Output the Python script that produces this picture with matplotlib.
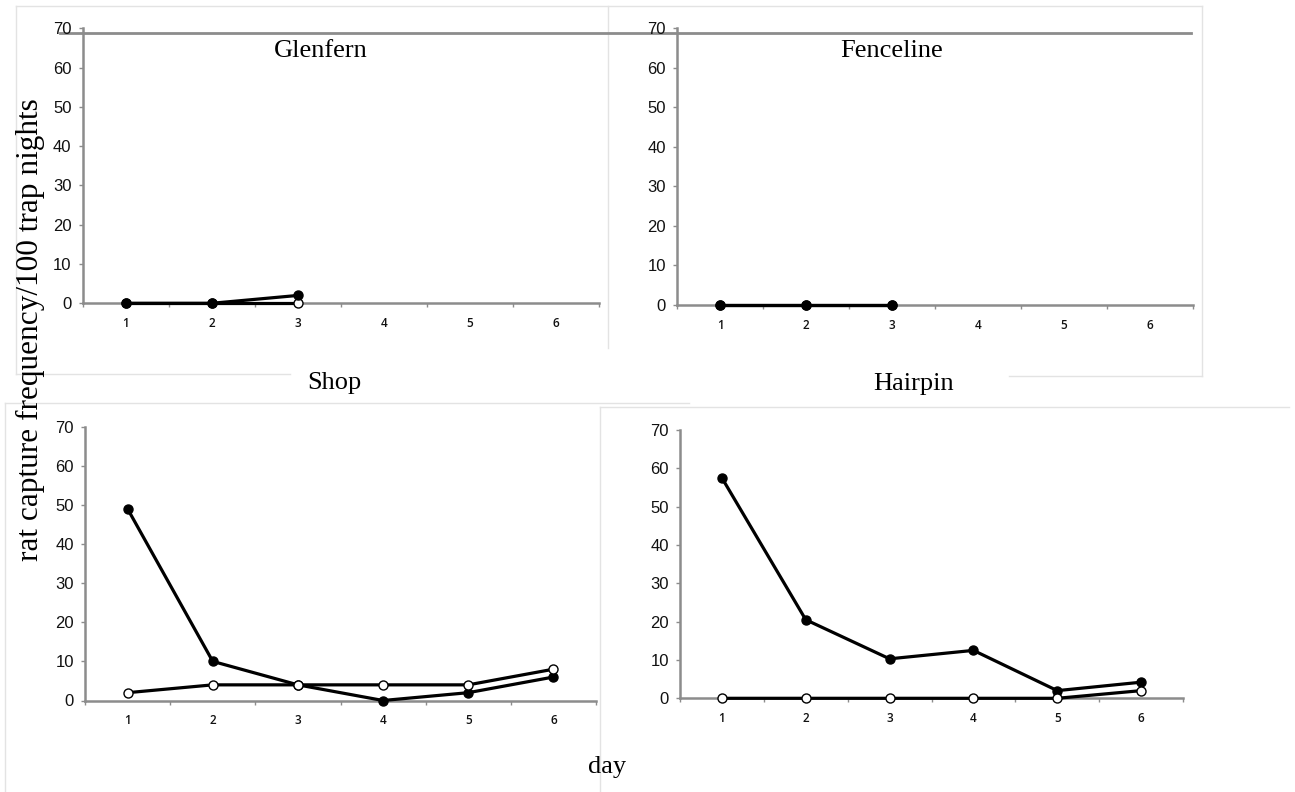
import matplotlib
matplotlib.use("Agg")
import matplotlib.pyplot as plt
from matplotlib.lines import Line2D

# rat captures per 100 trap nights, by trapping day
days = [1, 2, 3, 4, 5, 6]

glenfern_closed = [0, 0, 2]
glenfern_open = [0, 0, 0]
fenceline_closed = [0, 0, 0]
fenceline_open = [0, 0, 0]
shop_closed = [49, 10, 4, 0, 2, 6]
shop_open = [2, 4, 4, 4, 4, 8]
hairpin_closed = [57.5, 20.5, 10.3, 12.5, 2, 4.2]
hairpin_open = [0, 0, 0, 0, 0, 2]

y_ticks = [0, 10, 20, 30, 40, 50, 60, 70]

W, H = 1295, 792
AXIS_GREY = "#8c8c8c"
FRAME_GREY = "#e3e3e3"
SERIF = "Liberation Serif"

fig = plt.figure(figsize=(W / 100, H / 100), dpi=100)
fig.patch.set_facecolor("white")


def px_axes(left, right, bottom, top):
    return fig.add_axes([left / W, 1 - bottom / H, (right - left) / W, (bottom - top) / H])


def fig_line(xs, ys, color=FRAME_GREY, lw=1.0):
    fig.add_artist(Line2D([x / W for x in xs], [1 - y / H for y in ys],
                          color=color, lw=lw, transform=fig.transFigure, zorder=0))


def draw_panel(ax, closed, opened, open_on_top):
    n_c = len(closed)
    n_o = len(opened)
    z_closed, z_open = (3, 4) if open_on_top else (4, 3)
    ax.plot(days[:n_o], opened, color="black", lw=2.3, marker="o", ms=6.5,
            mfc="white", mec="black", mew=1.0, zorder=z_open, clip_on=False)
    ax.plot(days[:n_c], closed, color="black", lw=2.3, marker="o", ms=6.5,
            mfc="black", mec="black", zorder=z_closed, clip_on=False)

    ax.set_xlim(0.5, 6.5)
    ax.set_ylim(0, 70)
    for side in ("top", "right"):
        ax.spines[side].set_visible(False)
    for side in ("left", "bottom"):
        ax.spines[side].set_color(AXIS_GREY)
        ax.spines[side].set_linewidth(1.8)
    ax.set_facecolor("none")

    ax.set_yticks(y_ticks)
    ax.set_yticklabels([str(v) for v in y_ticks], fontsize=12,
                       fontfamily="Liberation Sans", color="#111111")
    ax.tick_params(axis="y", direction="out", length=3, width=1.0,
                   color=AXIS_GREY, pad=5)

    ax.set_xticks(days)
    ax.set_xticklabels([str(d) for d in days], fontsize=8.5,
                       fontfamily="Open Sans", fontweight="semibold",
                       color="#111111")
    ax.set_xticks([d - 0.5 for d in days] + [6.5], minor=True)
    ax.tick_params(axis="x", which="major", length=0, pad=10)
    ax.tick_params(axis="x", which="minor", direction="out", length=3,
                   width=1.0, color=AXIS_GREY)


# faint frames around each panel
fig_line([16, 1202], [6, 6])
fig_line([16, 16], [6, 374])
fig_line([16, 290], [374, 374])
fig_line([608, 608], [6, 348])
fig_line([1202, 1202], [6, 376])
fig_line([1009, 1202], [376, 376])
fig_line([5, 689], [403, 403])
fig_line([5, 5], [403, 792])
fig_line([600, 1289], [407, 407])
fig_line([600, 600], [407, 792])

ax_g = px_axes(82.7, 598.7, 303.3, 28.3)
draw_panel(ax_g, glenfern_closed, glenfern_open, open_on_top=False)

ax_f = px_axes(677, 1193, 305, 28.3)
draw_panel(ax_f, fenceline_closed, fenceline_open, open_on_top=False)

ax_s = px_axes(85, 596, 700.5, 426.7)
draw_panel(ax_s, shop_closed, shop_open, open_on_top=True)

ax_h = px_axes(680, 1183, 698.3, 430)
draw_panel(ax_h, hairpin_closed, hairpin_open, open_on_top=True)

# grey rule running across the top row
fig_line([60, 1191], [32.7, 32.7], color=AXIS_GREY, lw=2.0)

# panel names
fig.text(321 / W, 1 - 57 / H, "Glenfern", family=SERIF, fontsize=19,
         ha="center", va="baseline")
fig.text(892 / W, 1 - 57 / H, "Fenceline", family=SERIF, fontsize=19,
         ha="center", va="baseline")
fig.text(334 / W, 1 - 389 / H, "Shop", family=SERIF, fontsize=19,
         ha="center", va="baseline")
fig.text(914 / W, 1 - 390 / H, "Hairpin", family=SERIF, fontsize=19,
         ha="center", va="baseline")

fig.text(607 / W, 1 - 773 / H, "day", family=SERIF, fontsize=19,
         ha="center", va="baseline")
fig.text(30 / W, 1 - 330 / H, "rat capture frequency/100 trap nights",
         family=SERIF, fontsize=22.5, rotation=90, ha="center", va="center")

fig.savefig("out.png", dpi=100, facecolor="white")
